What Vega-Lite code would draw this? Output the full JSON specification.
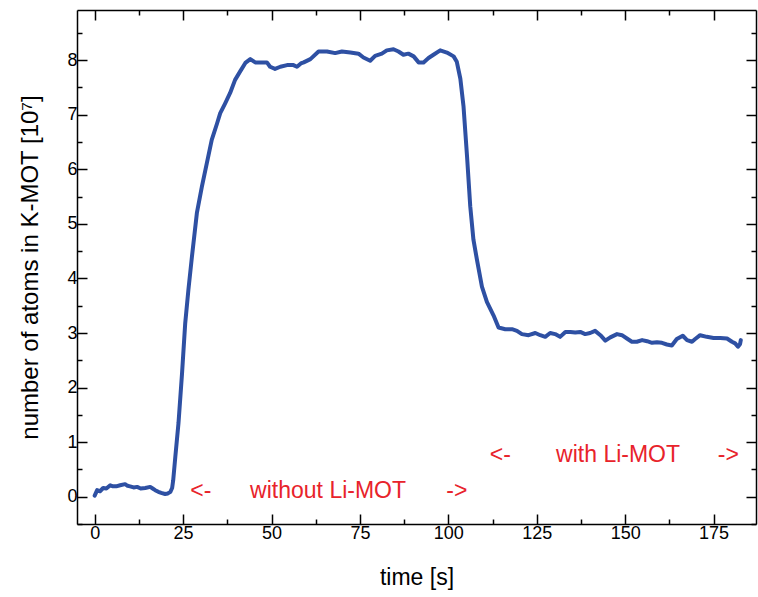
{
  "$schema": "https://vega.github.io/schema/vega-lite/v6.json",
  "width": 679,
  "height": 514,
  "autosize": {"type": "none"},
  "padding": {"left": 77, "top": 10, "right": 2, "bottom": 73},
  "background": "white",
  "config": {
    "view": {"stroke": null},
    "font": "Liberation Sans",
    "axis": {
      "domainColor": "black",
      "domainWidth": 1.5,
      "tickColor": "black",
      "tickWidth": 1.5,
      "grid": false,
      "labelFont": "Liberation Sans",
      "labelFontSize": 18,
      "labelColor": "black",
      "titleFont": "Liberation Sans",
      "titleFontWeight": "normal",
      "titleColor": "black"
    }
  },
  "datasets": {
    "curve": [
      {"t": 0, "n": 0.02}, {"t": 0.7, "n": 0.12}, {"t": 1.5, "n": 0.1}, {"t": 2.4, "n": 0.16},
      {"t": 3.3, "n": 0.15}, {"t": 4.4, "n": 0.21}, {"t": 5.2, "n": 0.19}, {"t": 6.1, "n": 0.19},
      {"t": 7.2, "n": 0.21}, {"t": 8.6, "n": 0.23}, {"t": 9.3, "n": 0.2}, {"t": 10, "n": 0.19},
      {"t": 11, "n": 0.17}, {"t": 12, "n": 0.18}, {"t": 13, "n": 0.15}, {"t": 14.3, "n": 0.16},
      {"t": 15.7, "n": 0.18}, {"t": 16.4, "n": 0.15}, {"t": 17.1, "n": 0.12}, {"t": 18, "n": 0.09},
      {"t": 18.8, "n": 0.07}, {"t": 19.9, "n": 0.05}, {"t": 20.7, "n": 0.06}, {"t": 21.4, "n": 0.09},
      {"t": 21.9, "n": 0.16}, {"t": 22.2, "n": 0.3}, {"t": 22.8, "n": 0.73}, {"t": 23.7, "n": 1.35},
      {"t": 24.7, "n": 2.26}, {"t": 25.6, "n": 3.18}, {"t": 26.5, "n": 3.79}, {"t": 27.5, "n": 4.4},
      {"t": 28.9, "n": 5.2}, {"t": 30.3, "n": 5.68}, {"t": 31.7, "n": 6.11}, {"t": 33.1, "n": 6.54},
      {"t": 34.6, "n": 6.84}, {"t": 35.5, "n": 7.03}, {"t": 36.9, "n": 7.21}, {"t": 38.3, "n": 7.4},
      {"t": 39.7, "n": 7.64}, {"t": 41.1, "n": 7.79}, {"t": 42.6, "n": 7.95}, {"t": 44.0, "n": 8.02},
      {"t": 45.4, "n": 7.96}, {"t": 47.3, "n": 7.96}, {"t": 48.7, "n": 7.96}, {"t": 49.6, "n": 7.88},
      {"t": 51.0, "n": 7.84}, {"t": 52.5, "n": 7.88}, {"t": 54.4, "n": 7.91}, {"t": 56.2, "n": 7.91},
      {"t": 57.2, "n": 7.88}, {"t": 58.3, "n": 7.94}, {"t": 59.1, "n": 7.96}, {"t": 61.0, "n": 8.02},
      {"t": 63.3, "n": 8.16}, {"t": 65.7, "n": 8.16}, {"t": 68.0, "n": 8.13}, {"t": 69.9, "n": 8.16},
      {"t": 72.3, "n": 8.14}, {"t": 74.6, "n": 8.12}, {"t": 76.0, "n": 8.05}, {"t": 77.9, "n": 7.99},
      {"t": 79.3, "n": 8.08}, {"t": 81.2, "n": 8.12}, {"t": 82.6, "n": 8.18}, {"t": 84.5, "n": 8.2},
      {"t": 85.9, "n": 8.16}, {"t": 87.3, "n": 8.1}, {"t": 88.7, "n": 8.12}, {"t": 90.2, "n": 8.07},
      {"t": 91.6, "n": 7.96}, {"t": 93.0, "n": 7.96}, {"t": 94.4, "n": 8.04}, {"t": 95.8, "n": 8.1},
      {"t": 97.7, "n": 8.18}, {"t": 99.6, "n": 8.14}, {"t": 101.5, "n": 8.07}, {"t": 102.4, "n": 7.97},
      {"t": 103.4, "n": 7.66}, {"t": 104.3, "n": 7.15}, {"t": 105.3, "n": 6.23}, {"t": 106.2, "n": 5.32},
      {"t": 107.1, "n": 4.71}, {"t": 108.1, "n": 4.34}, {"t": 109.5, "n": 3.85}, {"t": 110.9, "n": 3.57},
      {"t": 112.8, "n": 3.32}, {"t": 114.2, "n": 3.1}, {"t": 116.1, "n": 3.07}, {"t": 118.0, "n": 3.07},
      {"t": 119.4, "n": 3.04}, {"t": 120.8, "n": 2.98}, {"t": 122.7, "n": 2.96}, {"t": 124.6, "n": 3.0},
      {"t": 126.0, "n": 2.96}, {"t": 127.4, "n": 2.93}, {"t": 128.8, "n": 3.0}, {"t": 130.2, "n": 2.98},
      {"t": 131.6, "n": 2.93}, {"t": 133.1, "n": 3.02}, {"t": 134.5, "n": 3.02}, {"t": 135.9, "n": 3.01},
      {"t": 137.3, "n": 3.02}, {"t": 138.7, "n": 2.98}, {"t": 140.1, "n": 3.0}, {"t": 141.5, "n": 3.04},
      {"t": 143.0, "n": 2.96}, {"t": 144.4, "n": 2.86}, {"t": 145.8, "n": 2.92}, {"t": 147.7, "n": 2.98},
      {"t": 149.1, "n": 2.96}, {"t": 150.5, "n": 2.9}, {"t": 151.9, "n": 2.84}, {"t": 153.3, "n": 2.84},
      {"t": 154.8, "n": 2.87}, {"t": 156.2, "n": 2.85}, {"t": 157.6, "n": 2.82}, {"t": 159.0, "n": 2.83},
      {"t": 160.4, "n": 2.82}, {"t": 161.8, "n": 2.79}, {"t": 163.2, "n": 2.77}, {"t": 164.6, "n": 2.89},
      {"t": 166.3, "n": 2.95}, {"t": 167.5, "n": 2.87}, {"t": 168.9, "n": 2.84}, {"t": 169.8, "n": 2.89},
      {"t": 171.2, "n": 2.96}, {"t": 173.1, "n": 2.93}, {"t": 175.0, "n": 2.91}, {"t": 176.9, "n": 2.91},
      {"t": 178.8, "n": 2.9}, {"t": 180.2, "n": 2.84}, {"t": 181.1, "n": 2.81}, {"t": 181.9, "n": 2.75},
      {"t": 182.5, "n": 2.8}, {"t": 182.7, "n": 2.87}
    ],
    "notes": [
      {"t": 30.0, "n": -0.03, "label": "<-"},
      {"t": 66.0, "n": -0.03, "label": "without Li-MOT"},
      {"t": 102.4, "n": -0.03, "label": "->"},
      {"t": 114.7, "n": 0.64, "label": "<-"},
      {"t": 148.0, "n": 0.64, "label": "with Li-MOT"},
      {"t": 179.2, "n": 0.64, "label": "->"}
    ]
  },
  "layer": [
    {
      "data": {"name": "curve"},
      "mark": {"type": "line", "color": "#2e50a3", "strokeWidth": 4, "strokeJoin": "round", "strokeCap": "round", "clip": true},
      "encoding": {
        "x": {
          "field": "t", "type": "quantitative",
          "scale": {"domain": [-5, 187], "nice": false, "zero": false},
          "axis": {
            "orient": "bottom",
            "values": [0, 12.5, 25, 37.5, 50, 62.5, 75, 87.5, 100, 112.5, 125, 137.5, 150, 162.5, 175],
            "labelExpr": "datum.value % 25 === 0 ? format(datum.value, 'd') : ''",
            "tickSize": {"condition": {"test": "datum.value % 25 === 0", "value": -10}, "value": -5},
            "labelPadding": 10,
            "labelFlush": false,
            "title": "time [s]",
            "titleFontSize": 23,
            "titlePadding": 24
          }
        },
        "y": {
          "field": "n", "type": "quantitative",
          "scale": {"domain": [-0.5, 8.92], "nice": false, "zero": false},
          "axis": {
            "orient": "left",
            "values": [-0.5, 0, 0.5, 1, 1.5, 2, 2.5, 3, 3.5, 4, 4.5, 5, 5.5, 6, 6.5, 7, 7.5, 8, 8.5],
            "labelExpr": "datum.value % 1 === 0 ? format(datum.value, 'd') : ''",
            "tickSize": {"condition": {"test": "datum.value % 1 === 0", "value": -10}, "value": -5},
            "labelPadding": 10,
            "labelFlush": false,
            "title": "number of atoms in K-MOT [10⁷]",
            "titleFontSize": 24,
            "titlePadding": 24
          }
        }
      }
    },
    {
      "data": {"name": "notes"},
      "mark": {"type": "text", "color": "#e8232b", "fontSize": 23, "font": "Liberation Sans", "baseline": "alphabetic", "align": "center"},
      "encoding": {
        "x": {
          "field": "t", "type": "quantitative",
          "scale": {"domain": [-5, 187], "nice": false, "zero": false},
          "axis": {
            "orient": "top",
            "values": [0, 12.5, 25, 37.5, 50, 62.5, 75, 87.5, 100, 112.5, 125, 137.5, 150, 162.5, 175],
            "labels": false,
            "tickSize": {"condition": {"test": "datum.value % 25 === 0", "value": -10}, "value": -5},
            "title": null
          }
        },
        "y": {
          "field": "n", "type": "quantitative",
          "scale": {"domain": [-0.5, 8.92], "nice": false, "zero": false},
          "axis": {
            "orient": "right",
            "values": [-0.5, 0, 0.5, 1, 1.5, 2, 2.5, 3, 3.5, 4, 4.5, 5, 5.5, 6, 6.5, 7, 7.5, 8, 8.5],
            "labels": false,
            "tickSize": {"condition": {"test": "datum.value % 1 === 0", "value": -10}, "value": -5},
            "title": null
          }
        },
        "text": {"field": "label"}
      }
    }
  ],
  "resolve": {"axis": {"x": "independent", "y": "independent"}}
}
